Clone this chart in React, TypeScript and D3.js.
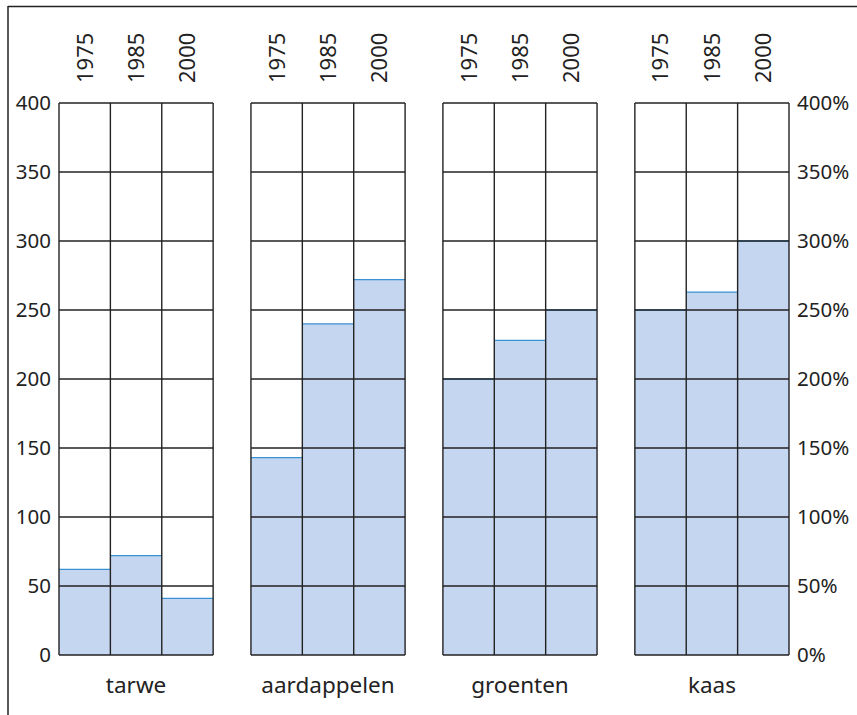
import React from 'react';
import * as d3 from 'd3';

const categories = ['tarwe', 'aardappelen', 'groenten', 'kaas'];
const years = ['1975', '1985', '2000'];
// values per category, in order of years
const tarwe = [62, 72, 41];
const aardappelen = [143, 240, 272];
const groenten = [200, 228, 250];
const kaas = [250, 263, 300];
const seriesValues = [tarwe, aardappelen, groenten, kaas];
const yTicks = [0, 50, 100, 150, 200, 250, 300, 350, 400];

const WIDTH = 857;
const HEIGHT = 715;
const PLOT = { left: 59, right: 789, top: 103, bottom: 655 };
const FONT = '"Noto Sans", "Open Sans", sans-serif';
const GRID = '#222';

const App = () => {
  const yScale = d3.scaleLinear().domain([0, 400]).range([PLOT.bottom, PLOT.top]);

  const xPanel = d3
    .scaleBand<string>()
    .domain(categories)
    .range([PLOT.left, PLOT.right])
    .paddingInner(0.197)
    .paddingOuter(0);

  const xYear = d3.scaleBand<string>().domain(years).range([0, xPanel.bandwidth()]).padding(0);

  const panels = categories.map((cat, i) => {
    const px = xPanel(cat) as number;
    const bw = xPanel.bandwidth();
    const vals = seriesValues[i];
    return (
      <g key={cat} transform={`translate(${px},0)`}>
        {/* balken */}
        {years.map((yr, j) => (
          <g key={yr}>
            <rect
              x={xYear(yr)}
              y={yScale(vals[j])}
              width={xYear.bandwidth()}
              height={yScale(0) - yScale(vals[j])}
              fill="#c5d6f0"
            />
            <line
              x1={xYear(yr)}
              x2={(xYear(yr) as number) + xYear.bandwidth()}
              y1={yScale(vals[j])}
              y2={yScale(vals[j])}
              stroke="#3a92d4"
              strokeWidth={1.3}
            />
          </g>
        ))}
        {/* rasterlijnen */}
        {yTicks.map((t) => (
          <line key={t} x1={0} x2={bw} y1={yScale(t)} y2={yScale(t)} stroke={GRID} strokeWidth={1.4} />
        ))}
        {[...years.map((yr) => xYear(yr) as number), bw].map((x, k) => (
          <line key={k} x1={x} x2={x} y1={yScale(400)} y2={yScale(0)} stroke={GRID} strokeWidth={1.4} />
        ))}
        {/* jaartallen */}
        {years.map((yr) => (
          <text
            key={yr}
            transform={`translate(${(xYear(yr) as number) + xYear.bandwidth() / 2},83) rotate(-90)`}
            dy="0.36em"
            fontSize={22}
            fill="#222"
            fontFamily={FONT}
          >
            {yr}
          </text>
        ))}
        <text x={bw / 2} y={693} textAnchor="middle" fontSize={22.5} fill="#222" fontFamily={FONT}>
          {cat}
        </text>
      </g>
    );
  });

  return (
    <svg
      width={WIDTH}
      height={HEIGHT}
      style={{ position: 'absolute', left: 0, top: 0, background: '#fff' }}
    >
      <line x1={8} x2={WIDTH} y1={6.5} y2={6.5} stroke="#222" strokeWidth={1.5} />
      <line x1={8} x2={8} y1={6} y2={HEIGHT} stroke="#222" strokeWidth={1.5} />
      {panels}
      {yTicks.map((t) => (
        <text
          key={`l${t}`}
          x={51}
          y={yScale(t)}
          dy="0.36em"
          textAnchor="end"
          fontSize={20.5}
          fill="#222"
          fontFamily={FONT}
        >
          {t}
        </text>
      ))}
      {yTicks.map((t) => (
        <text
          key={`r${t}`}
          x={797}
          y={yScale(t)}
          dy="0.36em"
          textAnchor="start"
          fontSize={20.5}
          fill="#222"
          fontFamily={FONT}
        >
          {t}%
        </text>
      ))}
    </svg>
  );
};

export default App;
